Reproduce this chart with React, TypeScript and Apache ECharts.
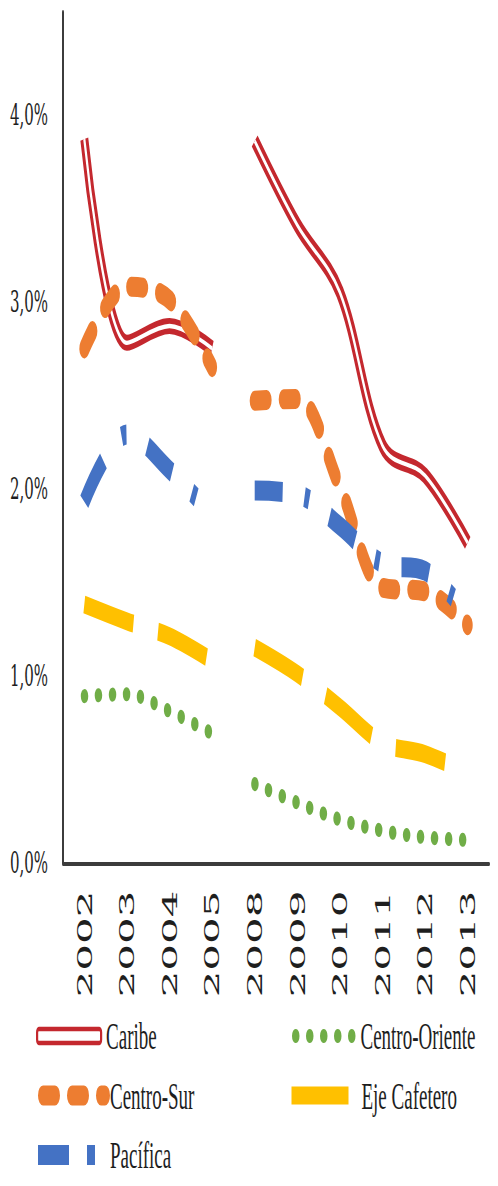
import React, { useEffect, useRef } from 'react';
import * as echarts from 'echarts';

// ---- data (percent) ----
const years = ['2002', '2003', '2004', '2005', '2008', '2009', '2010', '2011', '2012', '2013'];
const caribe = [3.87, 2.78, 2.87, 2.75, 3.86, 3.41, 3.05, 2.23, 2.07, 1.71];
const centroOriente = [0.89, 0.9, 0.81, 0.69, 0.42, 0.32, 0.23, 0.17, 0.135, 0.12];
const centroSur = [2.75, 3.08, 3.01, 2.65, 2.47, 2.48, 2.01, 1.47, 1.45, 1.27];
const ejeCafetero = [1.38, 1.29, 1.21, 1.08, 1.15, 1.01, 0.83, 0.64, 0.58, 0.48];
const pacifica = [1.93, 2.29, 2.1, 1.86, 1.99, 1.97, 1.8, 1.6, 1.56, 1.32];
const yTicks = [0, 1, 2, 3, 4];
const breakIndex = 4; // lines are interrupted between 2005 and 2008

// ---- styles ----
const RED = '#c4282e';
const GREEN = '#70ad47';
const ORANGE = '#ed7d31';
const YELLOW = '#ffc000';
const BLUE = '#4472c4';
const TEXT = '#1e1e1e';
const AXIS = '#3c3c3c';

const W = 498;
const K = 2; // vertical stretch of the reference picture
const H = 1186 / K;

const partA = (arr: number[]) => arr.map((v, i) => (i < breakIndex ? v : '-'));
const partB = (arr: number[]) => arr.map((v, i) => (i >= breakIndex ? v : '-'));

const SMOOTH = 0.35;

function lineSeries(name: string, data: any[], lineStyle: any) {
  return {
    type: 'line',
    name,
    data,
    smooth: SMOOTH,
    symbol: 'none',
    showSymbol: false,
    silent: true,
    lineStyle,
  };
}

const redStyle = { color: RED, width: 8 };
const whiteStyle = { color: '#ffffff', width: 2.2 };
const greenStyle = { color: GREEN, width: 7, type: [0.5, 13.5], cap: 'round' };
const orangeStyle = { color: ORANGE, width: 10, type: [12, 17], cap: 'round' };
const yellowStyle = { color: YELLOW, width: 9, type: [50, 25], cap: 'butt' };
const blueStyle = { color: BLUE, width: 10, type: [28, 22, 5, 22], cap: 'butt' };

const legendText = {
  fontFamily: '"Liberation Serif", "Times New Roman", serif',
  fontSize: 19,
  lineHeight: 20,
  color: TEXT,
};

function legendFor(name: string, left: number, center: number, extra: any) {
  return {
    data: [name],
    orient: 'vertical',
    left,
    top: center - 10,
    padding: 0,
    selectedMode: false,
    textStyle: legendText,
    itemStyle: { opacity: 0 },
    ...extra,
  };
}

export default function App() {
  const ref = useRef<HTMLDivElement>(null);

  useEffect(() => {
    if (!ref.current) return;
    const chart = echarts.init(ref.current, undefined, { renderer: 'svg' });
    const option: any = {
      animation: false,
      backgroundColor: '#ffffff',
      grid: { left: 63, right: 9, top: 6, bottom: H - 431.25, containLabel: false },
      xAxis: {
        type: 'category',
        data: years,
        boundaryGap: true,
        axisLine: { show: true, lineStyle: { color: AXIS, width: 2 } },
        axisTick: { show: false },
        axisLabel: {
          rotate: 90,
          margin: 14,
          fontFamily: '"DejaVu Serif", serif',
          fontSize: 21,
          color: TEXT,
          padding: [8, 0, 0, 0],
        },
        splitLine: { show: false },
      },
      yAxis: {
        type: 'value',
        min: 0,
        max: 4.55,
        interval: 1,
        axisLine: { show: true, lineStyle: { color: AXIS, width: 2 } },
        axisTick: { show: false },
        splitLine: { show: false },
        axisLabel: {
          margin: 15,
          showMaxLabel: false,
          fontFamily: '"DejaVu Serif", serif',
          fontSize: 15,
          color: TEXT,
          padding: [6, 0, 0, 0],
          formatter: (v: number) =>
            yTicks.includes(v) ? v.toFixed(1).replace('.', ',') + '%' : '',
        },
      },
      legend: [
        legendFor('Caribe', 36, 518, {
          itemWidth: 64,
          itemHeight: 7,
          icon: 'roundRect',
          itemStyle: { color: '#ffffff', borderColor: RED, borderWidth: 2.2 },
        }),
        legendFor('Centro-Oriente', 289, 518, {
          itemWidth: 63,
          itemHeight: 8,
          lineStyle: { color: GREEN, width: 7, type: [0.5, 13.5], cap: 'round', dashOffset: -3.5 },
        }),
        legendFor('Centro-Sur', 33, 547.7, {
          itemWidth: 67,
          itemHeight: 10,
          lineStyle: { color: ORANGE, width: 10, type: [12, 17], cap: 'round', dashOffset: -5 },
        }),
        legendFor('Eje Cafetero', 287, 547.7, {
          itemWidth: 65,
          itemHeight: 9,
          lineStyle: { color: YELLOW, width: 9, type: [57, 30], cap: 'butt' },
        }),
        legendFor('Pacífica', 33, 577.5, {
          itemWidth: 67,
          itemHeight: 10,
          lineStyle: { color: BLUE, width: 10, type: [31, 18, 8, 30], cap: 'butt' },
        }),
      ],
      series: [
        lineSeries('Caribe', partA(caribe), redStyle),
        lineSeries('Caribe', partB(caribe), redStyle),
        lineSeries('Caribe-core', partA(caribe), whiteStyle),
        lineSeries('Caribe-core', partB(caribe), whiteStyle),
        lineSeries('Centro-Oriente', partA(centroOriente), greenStyle),
        lineSeries('Centro-Oriente', partB(centroOriente), greenStyle),
        lineSeries('Centro-Sur', partA(centroSur), orangeStyle),
        lineSeries('Centro-Sur', partB(centroSur), orangeStyle),
        lineSeries('Eje Cafetero', partA(ejeCafetero), yellowStyle),
        lineSeries('Eje Cafetero', partB(ejeCafetero), yellowStyle),
        lineSeries('Pacífica', partA(pacifica), blueStyle),
        lineSeries('Pacífica', partB(pacifica), blueStyle),
      ],
    };
    chart.setOption(option);
    return () => chart.dispose();
  }, []);

  return (
    <div
      style={{
        position: 'absolute',
        left: 0,
        top: 0,
        width: W,
        height: 1186,
        overflow: 'hidden',
        background: '#ffffff',
      }}
    >
      <div
        ref={ref}
        style={{
          width: W,
          height: H,
          transform: `scale(1, ${K})`,
          transformOrigin: '0 0',
        }}
      />
    </div>
  );
}
